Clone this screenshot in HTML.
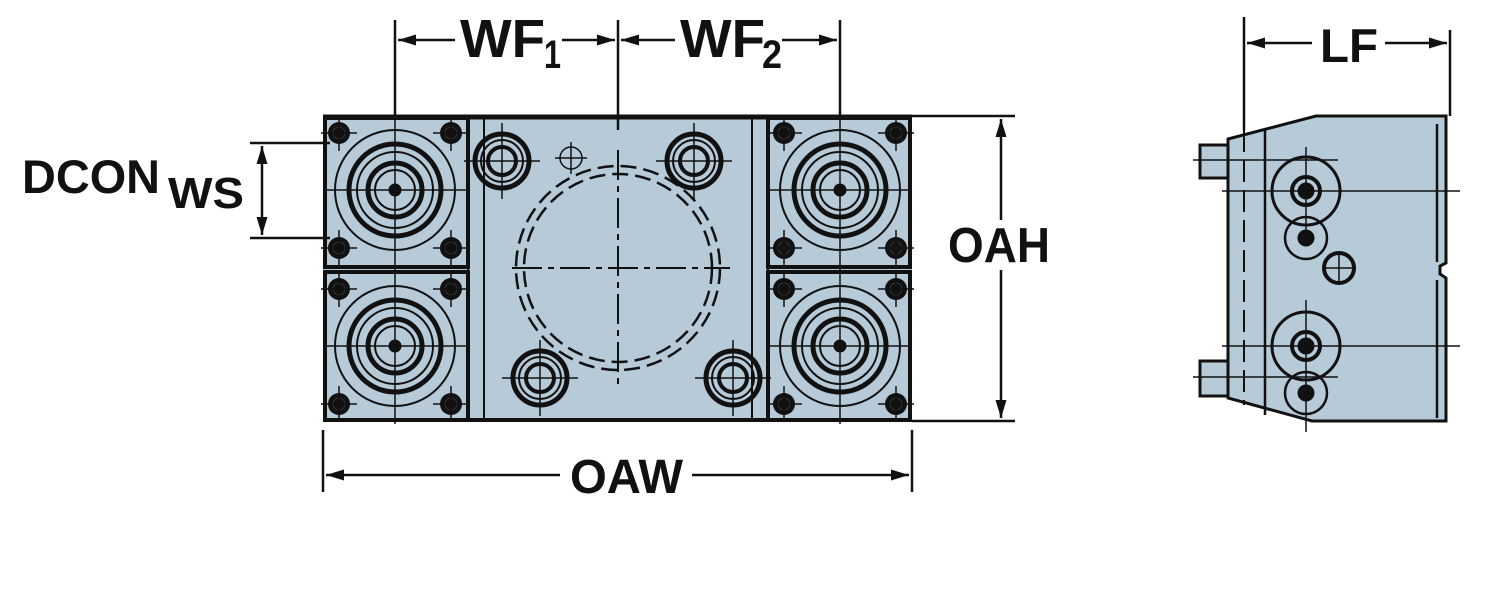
<!DOCTYPE html>
<html><head><meta charset="utf-8"><style>html,body{margin:0;padding:0;background:#fff}svg{display:block}</style></head><body>
<svg width="1500" height="606" viewBox="0 0 1500 606" xmlns="http://www.w3.org/2000/svg" font-family="Liberation Sans, sans-serif" fill="none" stroke="#111">
<defs>
<marker id="a" viewBox="0 0 18 12" refX="18" refY="6" markerWidth="18" markerHeight="12" markerUnits="userSpaceOnUse" orient="auto-start-reverse"><path d="M0,0.5 L18,6 L0,11.5z" fill="#111" stroke="none"/></marker>
<g id="bolt"><circle r="11" fill="#111" stroke="none"/><circle r="6" stroke="#333" stroke-width="1"/><path d="M-18,0H18M0,-18V18" stroke-width="1.5"/></g>
<g id="mod">
<circle r="60" stroke-width="2"/><circle r="46" stroke-width="5"/><circle r="38" stroke-width="2"/><circle r="27" stroke-width="5"/><circle r="20" stroke-width="2"/><circle r="6" fill="#111"/>
<path d="M-72,0H72M0,-78V78" stroke-width="1.5"/>
<use href="#bolt" x="-56" y="-57"/><use href="#bolt" x="56" y="-57"/><use href="#bolt" x="-56" y="58"/><use href="#bolt" x="56" y="58"/>
</g>
<g id="sb"><circle r="27" stroke-width="5"/><circle r="21" stroke-width="2"/><circle r="14" stroke-width="4"/><path d="M-38,0H38M0,-38V38" stroke-width="1.5"/></g>
</defs>

<rect x="323" y="116" width="589" height="305" fill="#b6cad8" stroke="none"/>
<rect x="468" y="116" width="300" height="305" stroke-width="2"/>
<line x1="484" y1="116" x2="484" y2="421" stroke-width="2"/>
<line x1="752" y1="116" x2="752" y2="421" stroke-width="2"/>
<rect x="325" y="118" width="143" height="149" stroke-width="4"/>
<rect x="325" y="272" width="143" height="148" stroke-width="4"/>
<rect x="768" y="118" width="142" height="149" stroke-width="4"/>
<rect x="768" y="272" width="142" height="148" stroke-width="4"/>
<line x1="323" y1="117" x2="912" y2="117" stroke-width="5"/>
<line x1="323" y1="420" x2="912" y2="420" stroke-width="4"/>
<use href="#mod" x="395" y="190"/><use href="#mod" x="395" y="346"/>
<use href="#mod" x="840" y="190"/><use href="#mod" x="840" y="346"/>
<circle cx="618" cy="268" r="102" stroke-width="2.5" stroke-dasharray="16,7"/>
<circle cx="618" cy="268" r="94" stroke-width="2.5" stroke-dasharray="16,7"/>
<path d="M512,268H730M618,150V385" stroke-width="2" stroke-dasharray="30,6,6,6"/>
<use href="#sb" x="502" y="161"/><use href="#sb" x="694" y="161"/><use href="#sb" x="540" y="378"/><use href="#sb" x="733" y="378"/>
<circle cx="571" cy="158" r="11" stroke-width="1.5"/><path d="M555,158H587M571,142V174" stroke-width="1.5"/>

<g stroke-width="2.5">
<path d="M395,20V116M618,20V130M840,20V116"/>
<path d="M323,430V492M912,430V492"/>
<path d="M912,116H1015M912,421H1015"/>
<path d="M250,143H330M250,238H330"/>
<line x1="398" y1="40" x2="455" y2="40" marker-start="url(#a)"/><line x1="562" y1="40" x2="615" y2="40" marker-end="url(#a)"/>
<line x1="621" y1="40" x2="675" y2="40" marker-start="url(#a)"/><line x1="782" y1="40" x2="837" y2="40" marker-end="url(#a)"/>
<line x1="326" y1="475" x2="560" y2="475" marker-start="url(#a)"/><line x1="692" y1="475" x2="909" y2="475" marker-end="url(#a)"/>
<line x1="1001" y1="119" x2="1001" y2="220" marker-start="url(#a)"/><line x1="1001" y1="270" x2="1001" y2="418" marker-end="url(#a)"/>
<line x1="262" y1="146" x2="262" y2="235" marker-start="url(#a)" marker-end="url(#a)"/>
<path d="M1244,17V130M1450,30V116"/>
<line x1="1247" y1="43" x2="1312" y2="43" marker-start="url(#a)"/><line x1="1385" y1="43" x2="1447" y2="43" marker-end="url(#a)"/>
</g>
<g fill="#111" stroke="none" font-weight="bold">
<text x="460" y="57" font-size="54" textLength="85" lengthAdjust="spacingAndGlyphs">WF</text>
<text x="544" y="68" font-size="40" textLength="17" lengthAdjust="spacingAndGlyphs">1</text>
<text x="680" y="57" font-size="54" textLength="85" lengthAdjust="spacingAndGlyphs">WF</text>
<text x="762" y="68" font-size="40" textLength="20" lengthAdjust="spacingAndGlyphs">2</text>
<text x="570" y="493" font-size="48" textLength="113" lengthAdjust="spacingAndGlyphs">OAW</text>
<text x="948" y="262" font-size="49" textLength="102" lengthAdjust="spacingAndGlyphs">OAH</text>
<text x="22" y="193" font-size="47" textLength="138" lengthAdjust="spacingAndGlyphs">DCON</text>
<text x="168" y="208" font-size="44" textLength="76" lengthAdjust="spacingAndGlyphs">WS</text>
<text x="1320" y="62" font-size="47" textLength="58" lengthAdjust="spacingAndGlyphs">LF</text>
</g>

<path d="M1200,145H1228V178H1200Z M1200,361H1228V396H1200Z" fill="#b6cad8" stroke-width="3"/>
<path d="M1228,139L1316,116H1446V263L1440,266V274L1446,278V421H1312L1228,398Z" fill="#b6cad8" stroke-width="3"/>
<path d="M1437,124V262M1437,280V418" stroke-width="2.5"/>
<line x1="1265" y1="130" x2="1265" y2="415" stroke-width="2.5"/>
<line x1="1244" y1="130" x2="1244" y2="405" stroke-width="2" stroke-dasharray="22,8"/>
<g stroke-width="1.5"><path d="M1193,160H1338M1193,377H1338M1222,191H1460M1222,346H1460M1306,147V240M1306,300V432"/></g>
<circle cx="1306" cy="191" r="34" stroke-width="3"/><circle cx="1306" cy="191" r="14" stroke-width="4"/><circle cx="1306" cy="191" r="8" fill="#111"/>
<circle cx="1306" cy="238" r="21" stroke-width="2.5"/><circle cx="1306" cy="238" r="8" fill="#111"/>
<circle cx="1339" cy="268" r="15" stroke-width="4"/><path d="M1322,268H1356M1339,251V285" stroke-width="1.5"/>
<circle cx="1306" cy="346" r="34" stroke-width="3"/><circle cx="1306" cy="346" r="14" stroke-width="4"/><circle cx="1306" cy="346" r="8" fill="#111"/>
<circle cx="1306" cy="393" r="21" stroke-width="2.5"/><circle cx="1306" cy="393" r="8" fill="#111"/>
</svg>
</body></html>
